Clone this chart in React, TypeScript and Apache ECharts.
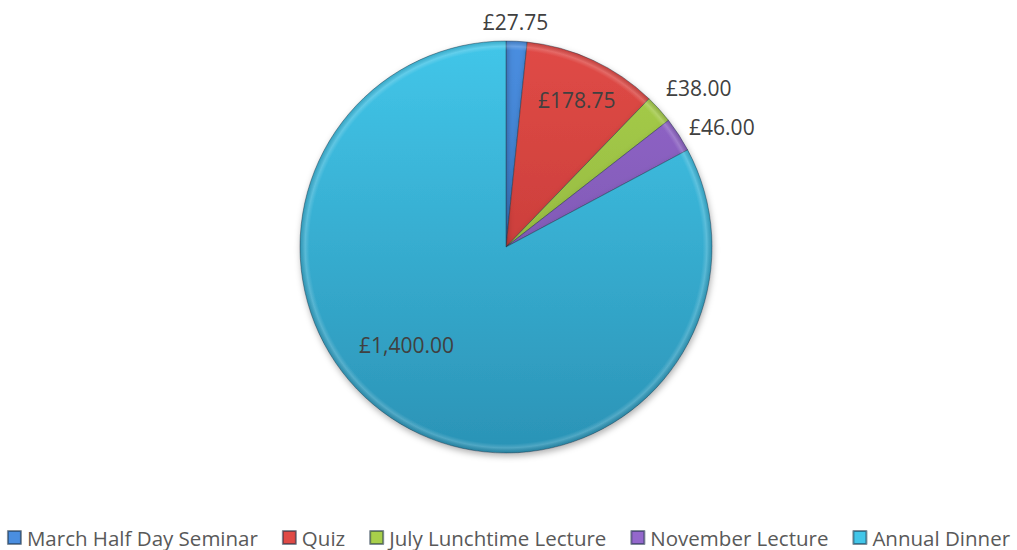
import React, { useEffect, useRef } from "react";
import * as echarts from "echarts";

const categories = ["March Half Day Seminar", "Quiz", "July Lunchtime Lecture", "November Lecture", "Annual Dinner"];
const values = [27.75, 178.75, 38.0, 46.0, 1400.0];
const labels = ["£27.75", "£178.75", "£38.00", "£46.00", "£1,400.00"];

const colorTop = ["#4A8EE0", "#E04A46", "#A8CF4A", "#9468CC", "#42C6E9"];
const colorBottom = ["#2F6AB2", "#B83532", "#86A83A", "#6E4BA0", "#2B93B6"];
const labelOffsets: number[][] = [[4, -119], [26, -51], [114, -88], [127, -62], [-45, 7]];

const CX = 506, CY = 247, R = 206;

export default function App() {
  const ref = useRef<HTMLDivElement>(null);
  useEffect(() => {
    document.body.style.margin = "0";
    const chart = echarts.init(ref.current!, null, { renderer: "svg" });
    const grad = (i: number) => ({
      type: "linear", x: 0, y: CY - R, x2: 0, y2: CY + R, global: true,
      colorStops: [{ offset: 0, color: colorTop[i] }, { offset: 1, color: colorBottom[i] }],
    });
    const rim = {
      type: "radial", x: CX, y: CY, r: R, global: true,
      colorStops: [
        { offset: 0, color: "rgba(255,255,255,0)" },
        { offset: 0.955, color: "rgba(255,255,255,0)" },
        { offset: 0.975, color: "rgba(255,255,255,0.18)" },
        { offset: 1, color: "rgba(0,0,0,0.12)" },
      ],
    };
    chart.setOption({
      animation: false,
      backgroundColor: "#ffffff",
      legend: {
        bottom: 2,
        left: "center",
        width: 1017,
        padding: 0,
        itemWidth: 13,
        itemHeight: 13,
        itemGap: 24,
        icon: "rect",
        textStyle: { fontFamily: "Open Sans", fontSize: 20.5, color: "#595959", padding: [0, 0, 0, 1] },
        data: categories,
      },
      series: [
        {
          type: "pie",
          center: [CX, CY],
          radius: [0, R],
          startAngle: 90,
          clockwise: true,
          avoidLabelOverlap: false,
          labelLine: { show: false },
          itemStyle: {
            borderColor: "rgba(30,50,70,0.55)", borderWidth: 0.8,
            shadowBlur: 6, shadowOffsetX: 1, shadowOffsetY: 3, shadowColor: "rgba(0,0,0,0.3)",
          },
          emphasis: { disabled: true },
          data: values.map((v, i) => ({
            name: categories[i],
            value: v,
            itemStyle: { color: grad(i) },
            label: {
              show: true,
              position: "inside",
              formatter: labels[i],
              offset: labelOffsets[i],
              fontFamily: "Open Sans",
              fontSize: 21,
              color: "#404040",
            },
          })),
        },
        {
          type: "pie",
          center: [CX, CY],
          radius: [0, R],
          startAngle: 90,
          clockwise: true,
          silent: true,
          legendHoverLink: false,
          label: { show: false },
          labelLine: { show: false },
          itemStyle: { color: rim, borderWidth: 0 },
          emphasis: { disabled: true },
          data: values.map((v, i) => ({ name: "rim" + i, value: v })),
        },
      ],
    });
    return () => chart.dispose();
  }, []);
  return <div ref={ref} style={{ width: 1017, height: 550 }} />;
}
